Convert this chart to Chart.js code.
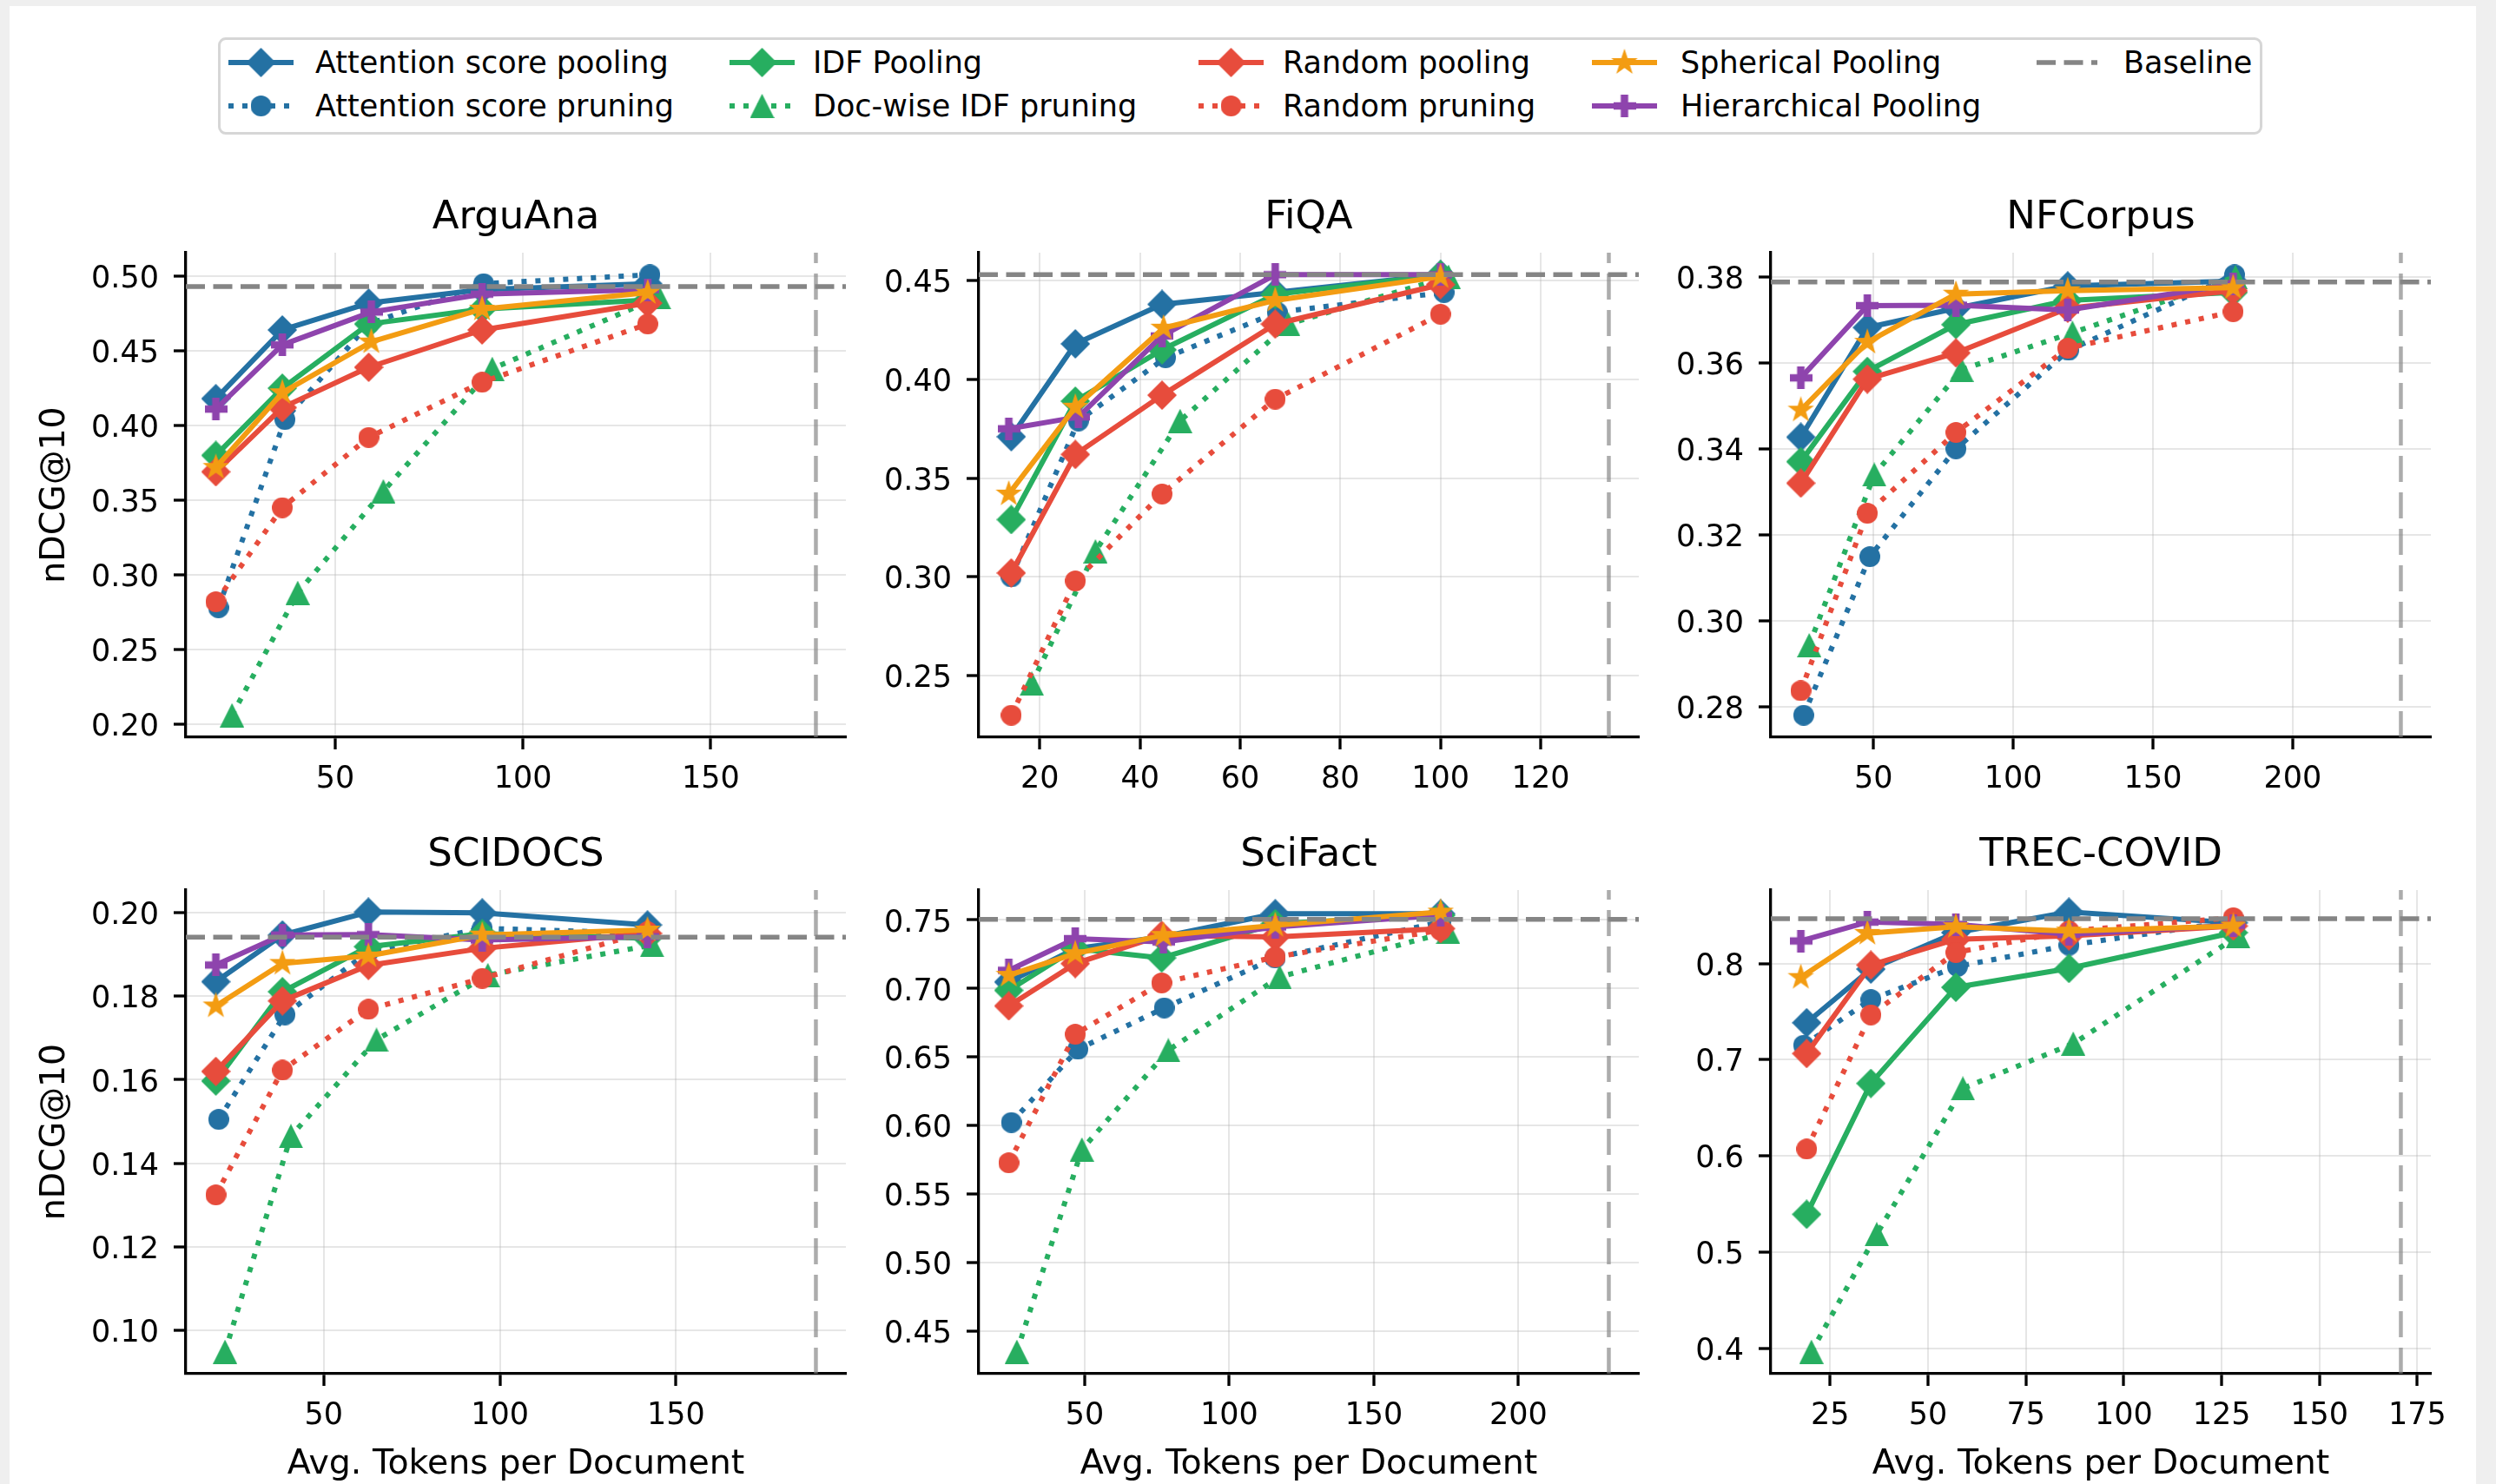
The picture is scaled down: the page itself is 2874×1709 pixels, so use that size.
<!DOCTYPE html>
<html>
<head>
<meta charset="utf-8">
<script src="https://cdn.jsdelivr.net/npm/chart.js@4.4.1/dist/chart.umd.min.js"></script>
<style>
    html, body { margin: 0; padding: 0; background: #efefef; }
    body { width: 2874px; height: 1709px; position: relative; overflow: hidden; font-family: "DejaVu Sans", sans-serif; }
    #sheet { position: absolute; left: 11px; top: 7px; width: 2840px; height: 1702px; background: #fff; }
    #legend { position: absolute; left: 251px; top: 43px; width: 2348px; height: 106px; border: 3px solid #d6d6d6; border-radius: 9px; background: #fff; }
    .lg-icon { position: absolute; }
    .lg-text { position: absolute; font-size: 35px; line-height: 40px; color: #000; white-space: nowrap; }
    .panel { position: absolute; }
</style>
</head>
<body>
<div id="sheet"></div>
<div id="legend"></div>

<script>
// series (legend order)
const seriesNames = ['Attention score pooling', 'Attention score pruning', 'IDF Pooling', 'Doc-wise IDF pruning',
    'Random pooling', 'Random pruning', 'Spherical Pooling', 'Hierarchical Pooling'];

const datasetNames = ['ArguAna', 'FiQA', 'NFCorpus', 'SCIDOCS', 'SciFact', 'TREC-COVID'];
const baselineScores = [0.493, 0.453, 0.3788, 0.1942, 0.7505, 0.8465];
const fullDocTokens = [178, 133.6, 238.7, 189.7, 231.3, 170.8];

// avg tokens per document, one row per series
const arguanaX = [
    [18.2, 35.9, 58.9, 89.1, 133.2],
    [18.9, 36.6, 58.9, 89.5, 133.8],
    [18.2, 35.9, 58.9, 89.1, 133.2],
    [22.5, 40.0, 62.8, 91.8, 136.2],
    [18.2, 35.9, 58.9, 89.1, 133.2],
    [18.2, 35.9, 58.9, 89.1, 133.2],
    [18.2, 35.9, 59.6, 89.1, 133.2],
    [18.2, 35.9, 59.6, 89.1, 133.2]
];
const arguanaY = [
    [0.418, 0.464, 0.482, 0.491, 0.495],
    [0.278, 0.404, 0.468, 0.495, 0.501],
    [0.380, 0.425, 0.468, 0.478, 0.484],
    [0.206, 0.288, 0.356, 0.438, 0.486],
    [0.369, 0.412, 0.439, 0.464, 0.482],
    [0.282, 0.345, 0.392, 0.429, 0.468],
    [0.372, 0.422, 0.456, 0.478, 0.489],
    [0.411, 0.454, 0.476, 0.488, 0.491]
];

const fiqaX = [
    [14.3, 27.1, 44.4, 67.0, 100.0],
    [14.3, 27.7, 45.1, 67.4, 100.7],
    [14.3, 27.1, 44.4, 67.0, 100.0],
    [18.4, 31.1, 48.0, 69.6, 101.6],
    [14.3, 27.1, 44.4, 67.0, 100.0],
    [14.3, 27.1, 44.4, 67.0, 100.0],
    [13.8, 27.1, 44.7, 67.0, 100.0],
    [13.8, 27.7, 44.4, 67.0, 100.0]
];
const fiqaY = [
    [0.371, 0.418, 0.438, 0.444, 0.453],
    [0.300, 0.379, 0.411, 0.434, 0.444],
    [0.329, 0.389, 0.415, 0.443, 0.453],
    [0.246, 0.313, 0.379, 0.428, 0.452],
    [0.302, 0.362, 0.392, 0.428, 0.448],
    [0.230, 0.298, 0.342, 0.390, 0.433],
    [0.342, 0.386, 0.426, 0.440, 0.452],
    [0.375, 0.381, 0.422, 0.453, 0.453]
];

const nfcorpusX = [
    [24.0, 47.8, 79.5, 119.5, 178.7],
    [25.0, 48.7, 79.5, 119.8, 179.2],
    [24.0, 47.8, 79.5, 119.5, 178.7],
    [27.0, 50.3, 81.5, 121.2, 179.5],
    [24.0, 47.8, 79.5, 119.5, 178.7],
    [24.0, 47.8, 79.5, 119.5, 178.7],
    [24.0, 47.8, 79.5, 119.5, 178.7],
    [24.0, 47.8, 79.5, 119.5, 178.7]
];
const nfcorpusY = [
    [0.3427, 0.3682, 0.3727, 0.3779, 0.3790],
    [0.2780, 0.3149, 0.3400, 0.3629, 0.3805],
    [0.3370, 0.3580, 0.3689, 0.3745, 0.3764],
    [0.2943, 0.3340, 0.3584, 0.3670, 0.3800],
    [0.3320, 0.3562, 0.3623, 0.3727, 0.3768],
    [0.2837, 0.3250, 0.3438, 0.3634, 0.3719],
    [0.3490, 0.3648, 0.3760, 0.3768, 0.3775],
    [0.3565, 0.3733, 0.3734, 0.3723, 0.3783]
];

const scidocsX = [
    [19.4, 38.3, 62.7, 95.0, 141.9],
    [20.2, 39.0, 62.7, 95.0, 141.9],
    [19.4, 38.3, 62.7, 95.0, 141.9],
    [22.0, 40.7, 65.0, 96.6, 143.2],
    [19.4, 38.3, 62.7, 95.0, 141.9],
    [19.4, 38.3, 62.7, 95.0, 141.9],
    [19.4, 38.3, 62.7, 95.0, 141.9],
    [19.4, 38.3, 62.7, 95.0, 141.9]
];
const scidocsY = [
    [0.1835, 0.1947, 0.2002, 0.2000, 0.1971],
    [0.1505, 0.1756, 0.1907, 0.1963, 0.1951],
    [0.1597, 0.1811, 0.1919, 0.1950, 0.1939],
    [0.0948, 0.1465, 0.1696, 0.1851, 0.1923],
    [0.1620, 0.1789, 0.1874, 0.1915, 0.1951],
    [0.1324, 0.1623, 0.1769, 0.1843, 0.1955],
    [0.1777, 0.1879, 0.1897, 0.1947, 0.1959],
    [0.1875, 0.1947, 0.1948, 0.1935, 0.1943]
];

const scifactX = [
    [23.7, 46.7, 76.6, 115.9, 173.1],
    [24.6, 47.6, 77.5, 115.9, 173.1],
    [23.7, 46.7, 76.6, 115.9, 173.1],
    [26.5, 49.0, 78.9, 117.4, 175.7],
    [23.7, 46.7, 76.6, 115.9, 173.1],
    [23.7, 46.7, 76.6, 115.9, 173.1],
    [23.7, 46.7, 77.2, 115.9, 173.1],
    [23.7, 46.7, 77.2, 115.9, 173.1]
];
const scifactY = [
    [0.7048, 0.7291, 0.7376, 0.7546, 0.7546],
    [0.6023, 0.6557, 0.6859, 0.7223, 0.7485],
    [0.6987, 0.7291, 0.7223, 0.7473, 0.7534],
    [0.4351, 0.5826, 0.6550, 0.7085, 0.7413],
    [0.6873, 0.7182, 0.7388, 0.7376, 0.7437],
    [0.5729, 0.6667, 0.7041, 0.7230, 0.7425],
    [0.7097, 0.7255, 0.7388, 0.7461, 0.7558],
    [0.7133, 0.7364, 0.7340, 0.7449, 0.7534]
];

const treccovidX = [
    [19.0, 35.4, 57.1, 86.0, 128.0],
    [18.2, 35.4, 57.5, 86.0, 128.3],
    [19.0, 35.4, 57.1, 86.0, 128.0],
    [20.2, 36.9, 58.9, 87.1, 129.2],
    [19.0, 35.4, 57.1, 86.0, 128.0],
    [19.0, 35.4, 57.1, 86.0, 128.0],
    [17.5, 34.5, 57.1, 86.0, 128.0],
    [17.5, 34.5, 57.1, 86.0, 128.0]
];
const treccovidY = [
    [0.7384, 0.7941, 0.8320, 0.8534, 0.8423],
    [0.7150, 0.7625, 0.7969, 0.8189, 0.8440],
    [0.5394, 0.6754, 0.7752, 0.7948, 0.8320],
    [0.3966, 0.5188, 0.6702, 0.7167, 0.8286],
    [0.7064, 0.7983, 0.8251, 0.8286, 0.8389],
    [0.6072, 0.7466, 0.8114, 0.8337, 0.8475],
    [0.7855, 0.8313, 0.8382, 0.8337, 0.8389],
    [0.8234, 0.8430, 0.8406, 0.8303, 0.8396]
];

// tick values per panel
const xTickValues = [
    [50, 100, 150],
    [20, 40, 60, 80, 100, 120],
    [50, 100, 150, 200],
    [50, 100, 150],
    [50, 100, 150, 200],
    [25, 50, 75, 100, 125, 150, 175]
];
const yTickValues = [
    [0.20, 0.25, 0.30, 0.35, 0.40, 0.45, 0.50],
    [0.25, 0.30, 0.35, 0.40, 0.45],
    [0.28, 0.30, 0.32, 0.34, 0.36, 0.38],
    [0.10, 0.12, 0.14, 0.16, 0.18, 0.20],
    [0.45, 0.50, 0.55, 0.60, 0.65, 0.70, 0.75],
    [0.4, 0.5, 0.6, 0.7, 0.8]
];
const yTickDecimals = [2, 2, 2, 2, 2, 1];

const allX = [arguanaX, fiqaX, nfcorpusX, scidocsX, scifactX, treccovidX];
const allY = [arguanaY, fiqaY, nfcorpusY, scidocsY, scifactY, treccovidY];

// styling
const FONT = "'DejaVu Sans', sans-serif";
const seriesColors = ['#2471A3', '#2471A3', '#27AE60', '#27AE60', '#E74C3C', '#E74C3C', '#F39C12', '#8E44AD'];
const seriesMarkers = ['diamond', 'circle', 'diamond', 'triangle', 'diamond', 'circle', 'star', 'plus'];
const seriesDotted = [false, true, false, true, false, true, false, false];
const stackOrder = [8, 7, 6, 5, 4, 3, 1, 2]; // lower = drawn on top
const BASE_COLOR = '#858585';

Chart.defaults.font.family = FONT;
Chart.defaults.color = '#000';

// marker images (filled shapes like matplotlib)
function markerCanvas(shape, color) {
    const sizes = { diamond: 34, circle: 24, triangle: 28, star: 32, plus: 26 };
    const size = sizes[shape];
    const c = document.createElement('canvas');
    c.width = size;
    c.height = size;
    const g = c.getContext('2d');
    const r = size / 2;
    g.fillStyle = color;
    g.beginPath();
    if (shape === 'circle') {
        g.arc(r, r, r, 0, Math.PI * 2);
    } else if (shape === 'diamond') {
        g.moveTo(r, 0); g.lineTo(size, r); g.lineTo(r, size); g.lineTo(0, r);
    } else if (shape === 'triangle') {
        g.moveTo(r, 0); g.lineTo(size, size); g.lineTo(0, size);
    } else if (shape === 'star') {
        for (let k = 0; k < 10; k++) {
            const rad = k % 2 ? r * 0.39 : r;
            const a = -Math.PI / 2 + k * Math.PI / 5;
            const px = r + rad * Math.cos(a), py = r + rad * Math.sin(a);
            if (k === 0) g.moveTo(px, py); else g.lineTo(px, py);
        }
    } else if (shape === 'plus') {
        const t = size / 6;
        const pts = [[r - t, 0], [r + t, 0], [r + t, r - t], [size, r - t], [size, r + t], [r + t, r + t],
            [r + t, size], [r - t, size], [r - t, r + t], [0, r + t], [0, r - t], [r - t, r - t]];
        pts.forEach(function(p, i) { if (i === 0) g.moveTo(p[0], p[1]); else g.lineTo(p[0], p[1]); });
    }
    g.closePath();
    g.fill();
    return c;
}

const markerImages = seriesMarkers.map(function(m, i) { return markerCanvas(m, seriesColors[i]); });

function paddedRange(values) {
    const lo = Math.min(...values), hi = Math.max(...values);
    const m = (hi - lo) * 0.05;
    return [lo - m, hi + m];
}

// panel geometry
const panelLeft = [214, 1127, 2039];
const panelTop = [291, 1025];
const panelHeight = [558, 557];
const PANEL_W = 760;
const Y_AXIS_W = 200;
const TITLE_H = 70;
const TITLE_SIZE = 45;
const RIGHT_PAD = 50;

function buildPanel(p) {
    const row = Math.floor(p / 3), col = p % 3;
    const xs = allX[p], ys = allY[p];
    const xAxisH = row === 0 ? 100 : 127;

    const [xMin, xMax] = paddedRange([].concat(...xs, fullDocTokens[p]));
    const [yMin, yMax] = paddedRange([].concat(...ys, baselineScores[p]));

    const canvas = document.createElement('canvas');
    canvas.className = 'panel';
    canvas.width = Y_AXIS_W + PANEL_W + RIGHT_PAD;
    canvas.height = TITLE_H + panelHeight[row] + xAxisH;
    canvas.style.left = (panelLeft[col] - Y_AXIS_W) + 'px';
    canvas.style.top = (panelTop[row] - TITLE_H) + 'px';
    document.body.appendChild(canvas);

    const datasets = seriesNames.map(function(name, s) {
        return {
            label: name,
            data: xs[s].map(function(x, i) { return { x: x, y: ys[s][i] }; }),
            borderColor: seriesColors[s],
            backgroundColor: seriesColors[s],
            borderWidth: 6,
            borderDash: seriesDotted[s] ? [6, 10] : [],
            borderCapStyle: 'butt',
            borderJoinStyle: 'round',
            pointStyle: markerImages[s],
            pointRadius: 12,
            tension: 0,
            fill: false,
            clip: false,
            order: stackOrder[s]
        };
    });

    // baseline score and full document length
    datasets.push({
        label: 'Baseline',
        data: [{ x: xMin, y: baselineScores[p] }, { x: xMax, y: baselineScores[p] }],
        borderColor: BASE_COLOR,
        borderWidth: 5.5,
        borderDash: [22, 9.5],
        pointRadius: 0,
        fill: false,
        clip: false,
        order: 0
    });
    datasets.push({
        label: 'Full',
        data: [{ x: fullDocTokens[p], y: yMin }, { x: fullDocTokens[p], y: yMax }],
        borderColor: 'rgba(128,128,128,0.65)',
        borderWidth: 4.5,
        borderDash: [30, 12],
        pointRadius: 0,
        fill: false,
        clip: false,
        order: 0
    });

    const gridOpts = {
        color: 'rgba(176,176,176,0.32)',
        lineWidth: 2,
        tickColor: '#000',
        tickWidth: 3.3,
        tickLength: 14
    };
    const borderOpts = { display: true, color: '#000', width: 3.3 };

    new Chart(canvas, {
        type: 'line',
        data: { datasets: datasets },
        options: {
            responsive: false,
            animation: false,
            devicePixelRatio: 1,
            events: [],
            layout: { padding: { left: 0, right: RIGHT_PAD, top: 0, bottom: 0 } },
            plugins: {
                legend: { display: false },
                tooltip: { enabled: false },
                title: {
                    display: true,
                    text: datasetNames[p],
                    fullSize: false,
                    color: '#000',
                    font: { family: FONT, size: TITLE_SIZE, weight: 'normal' },
                    padding: { top: 3, bottom: TITLE_H - 3 - TITLE_SIZE * 1.2 }
                }
            },
            scales: {
                x: {
                    type: 'linear',
                    min: xMin,
                    max: xMax,
                    afterBuildTicks: function(axis) {
                        axis.ticks = xTickValues[p].map(function(v) { return { value: v }; });
                    },
                    afterFit: function(axis) { axis.height = xAxisH; },
                    ticks: {
                        autoSkip: false,
                        maxRotation: 0,
                        padding: 14,
                        color: '#000',
                        font: { family: FONT, size: 35 },
                        callback: function(v) { return String(v); }
                    },
                    grid: gridOpts,
                    border: borderOpts,
                    title: {
                        display: row === 1,
                        text: 'Avg. Tokens per Document',
                        color: '#000',
                        font: { family: FONT, size: 39.5 },
                        padding: { top: 0, bottom: -1 }
                    }
                },
                y: {
                    type: 'linear',
                    min: yMin,
                    max: yMax,
                    afterBuildTicks: function(axis) {
                        axis.ticks = yTickValues[p].map(function(v) { return { value: v }; });
                    },
                    afterFit: function(axis) { axis.width = Y_AXIS_W; },
                    ticks: {
                        autoSkip: false,
                        padding: 17,
                        labelOffset: 4,
                        color: '#000',
                        font: { family: FONT, size: 35 },
                        callback: function(v) { return v.toFixed(yTickDecimals[p]); }
                    },
                    grid: gridOpts,
                    border: borderOpts,
                    title: {
                        display: col === 0,
                        text: 'nDCG@10',
                        color: '#000',
                        font: { family: FONT, size: 39.5 },
                        padding: { top: 26.3, bottom: 0 }
                    }
                }
            }
        }
    });
}

// legend drawn as html with small icon canvases
function buildLegend() {
    const handleLeft = [263, 840, 1380, 1833, 2345];
    const textLeft = [363, 936, 1477, 1935, 2445];
    const rowY = [72, 122];

    function addEntry(col, row, label, drawIcon) {
        const icon = document.createElement('canvas');
        icon.className = 'lg-icon';
        icon.width = 80;
        icon.height = 40;
        icon.style.left = (handleLeft[col] - 2) + 'px';
        icon.style.top = (rowY[row] - 20) + 'px';
        document.body.appendChild(icon);
        drawIcon(icon.getContext('2d'));

        const txt = document.createElement('div');
        txt.className = 'lg-text';
        txt.textContent = label;
        txt.style.left = textLeft[col] + 'px';
        txt.style.top = (rowY[row] - 20) + 'px';
        document.body.appendChild(txt);
    }

    seriesNames.forEach(function(name, s) {
        addEntry(Math.floor(s / 2), s % 2, name, function(g) {
            g.strokeStyle = seriesColors[s];
            g.lineWidth = 6;
            g.setLineDash(seriesDotted[s] ? [6, 10] : []);
            g.beginPath();
            g.moveTo(2, 20);
            g.lineTo(77, 20);
            g.stroke();
            const img = markerImages[s];
            g.drawImage(img, 39.5 - img.width / 2, 20 - img.height / 2);
        });
    });

    addEntry(4, 0, 'Baseline', function(g) {
        g.strokeStyle = BASE_COLOR;
        g.lineWidth = 5.5;
        g.setLineDash([22, 9.5]);
        g.beginPath();
        g.moveTo(2, 20);
        g.lineTo(72, 20);
        g.stroke();
    });
}

buildLegend();
for (let p = 0; p < 6; p++) {
    buildPanel(p);
}
</script>
</body>
</html>
